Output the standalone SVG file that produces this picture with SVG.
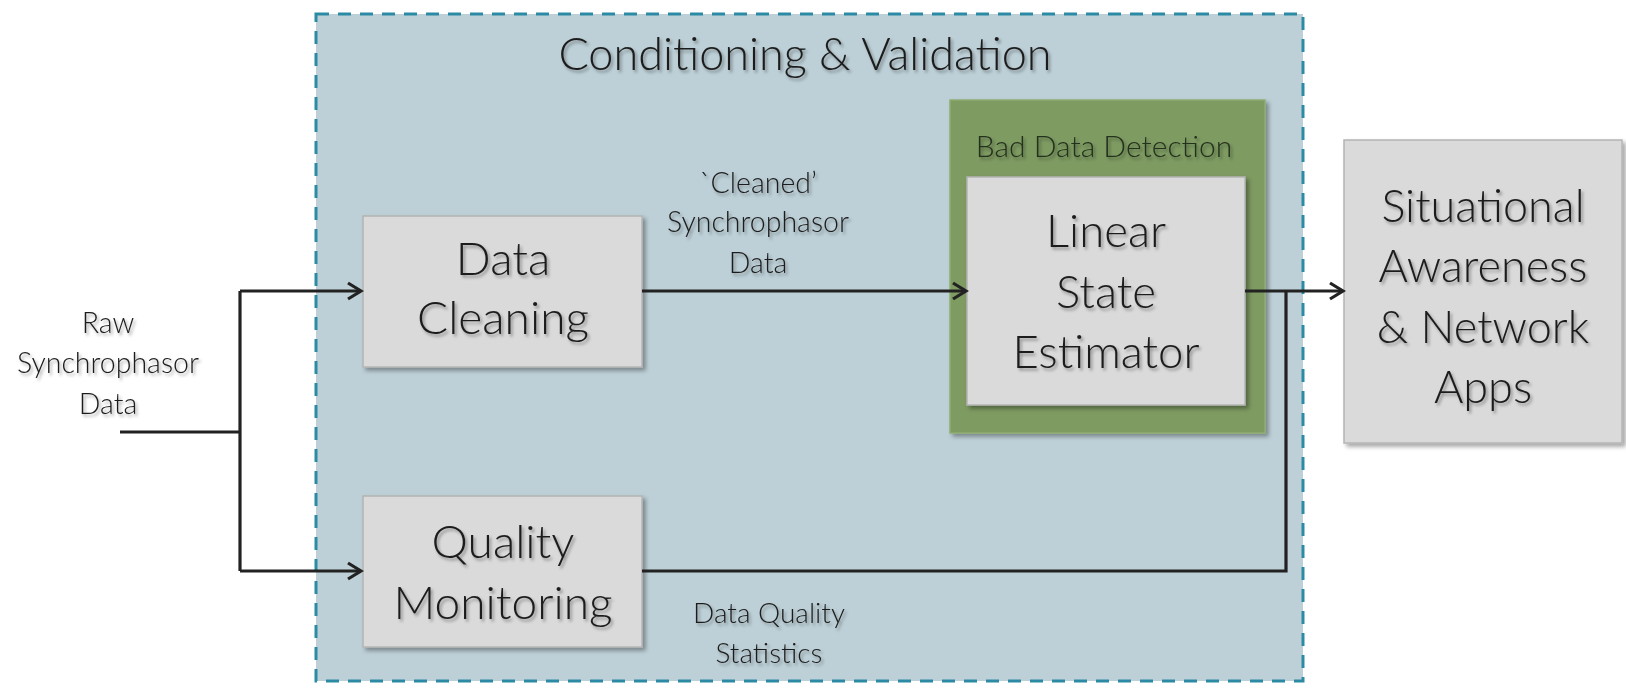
<svg xmlns="http://www.w3.org/2000/svg" width="1626" height="689" viewBox="0 0 1626 689">
<style>
.t{font-family:Lato,"Open Sans","Liberation Sans",sans-serif;font-weight:300;fill:#1c1c1c;text-anchor:middle;filter:url(#ts)}
.box{fill:#dadada;stroke:#b4b4b4;stroke-width:1.5;filter:url(#bs)}
.conn{fill:none;stroke:#222;stroke-width:3.2}
</style>
<defs>
<filter id="ts" x="-10%" y="-30%" width="130%" height="170%">
<feDropShadow dx="2" dy="2.5" stdDeviation="1.5" flood-color="#000" flood-opacity="0.35"/>
</filter>
<filter id="bs" x="-5%" y="-5%" width="115%" height="115%">
<feDropShadow dx="3" dy="3" stdDeviation="2" flood-color="#000" flood-opacity="0.35"/>
</filter>
<marker id="arr" markerUnits="userSpaceOnUse" markerWidth="18" markerHeight="20" viewBox="0 0 18 20" refX="15" refY="10" orient="auto">
<path d="M2,2 L15,10 L2,18" fill="none" stroke="#222" stroke-width="3.2"/>
</marker>
</defs>
<rect width="1626" height="689" fill="#ffffff"/>

<g id="container">
<rect x="316" y="14" width="987" height="667" fill="#bdd0d7" stroke="#2d8aa5" stroke-width="3" stroke-dasharray="13 9"/>
<text class="t" x="805" y="70" font-size="45">Conditioning &amp; Validation</text>
</g>

<g id="raw-label">
<text class="t" x="108" y="333" font-size="28.5">Raw</text>
<text class="t" x="108" y="373" font-size="28.5">Synchrophasor</text>
<text class="t" x="108" y="414" font-size="28.5">Data</text>
</g>

<g id="data-cleaning">
<rect class="box" x="363" y="216" width="279" height="151"/>
<text class="t" x="503" y="275" font-size="46">Data</text>
<text class="t" x="503" y="334" font-size="46">Cleaning</text>
</g>

<g id="quality-monitoring">
<rect class="box" x="363" y="496" width="279" height="151"/>
<text class="t" x="503" y="558" font-size="46">Quality</text>
<text class="t" x="503" y="619" font-size="46">Monitoring</text>
</g>

<g id="bad-data-detection">
<rect x="950" y="100" width="315" height="333" fill="#7e9b62" stroke="#8fac72" stroke-width="1.5" filter="url(#bs)"/>
<text class="t" x="1104" y="157" font-size="30" style="fill:#24301c">Bad Data Detection</text>
</g>

<g id="linear-state-estimator">
<rect class="box" x="967" y="177" width="278" height="228"/>
<text class="t" x="1106" y="247" font-size="45.5">Linear</text>
<text class="t" x="1106" y="308" font-size="45.5">State</text>
<text class="t" x="1106" y="368" font-size="45.5">Estimator</text>
</g>

<g id="situational-awareness">
<rect class="box" x="1344" y="140" width="278" height="303"/>
<text class="t" x="1483" y="222" font-size="45">Situational</text>
<text class="t" x="1483" y="282" font-size="45">Awareness</text>
<text class="t" x="1483" y="343" font-size="45">&amp; Network</text>
<text class="t" x="1483" y="403" font-size="45">Apps</text>
</g>

<g id="connectors">
<path class="conn" d="M120,432 H240"/>
<path class="conn" d="M240,291 V571"/>
<path class="conn" d="M240,291 H361" marker-end="url(#arr)"/>
<path class="conn" d="M240,571 H361" marker-end="url(#arr)"/>
<path class="conn" d="M642,291 H966" marker-end="url(#arr)"/>
<path class="conn" d="M1245,291 H1343" marker-end="url(#arr)"/>
<path class="conn" d="M642,571 H1286 V291"/>
</g>

<g id="connector-labels">
<text class="t" x="758" y="193" font-size="28.5">`Cleaned’</text>
<text class="t" x="758" y="232" font-size="28.5">Synchrophasor</text>
<text class="t" x="758" y="273" font-size="28.5">Data</text>
<text class="t" x="769" y="623" font-size="28">Data Quality</text>
<text class="t" x="769" y="663" font-size="28">Statistics</text>
</g>
</svg>
